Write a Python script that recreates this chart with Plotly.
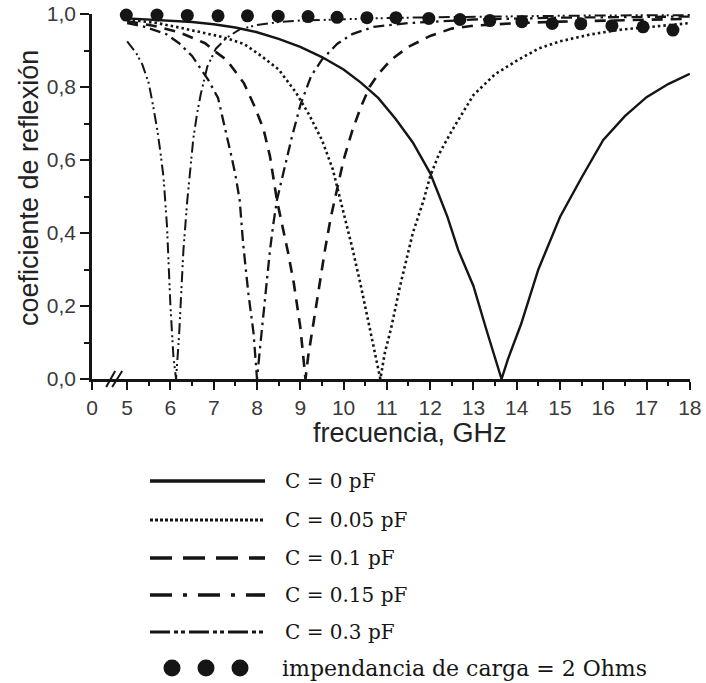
import plotly.graph_objects as go

# ---------------- data ----------------
freq_c0 = [5.0, 5.5, 6.0, 6.5, 7.0, 7.5, 8.0, 8.5, 9.0, 9.5, 10.0, 10.4, 10.8, 11.2, 11.6, 12.0,
           12.2, 12.4, 12.65, 13.0, 13.3, 13.5, 13.65, 13.8, 14.1, 14.5, 15.0, 15.5, 16.0, 16.5,
           17.0, 17.5, 18.0]
refl_c0 = [0.988, 0.985, 0.982, 0.978, 0.972, 0.963, 0.950, 0.932, 0.910, 0.882, 0.848, 0.812,
           0.770, 0.713, 0.648, 0.564, 0.505, 0.444, 0.353, 0.255, 0.135, 0.055, 0.0, 0.055, 0.15,
           0.30, 0.444, 0.552, 0.655, 0.72, 0.772, 0.808, 0.836]

freq_c005 = [5.0, 5.7, 6.2, 6.7, 7.2, 7.7, 8.1, 8.5, 8.9, 9.2, 9.5, 9.75, 10.0, 10.2, 10.4, 10.6,
             10.77, 10.85, 10.95, 11.1, 11.3, 11.6, 11.85, 12.0, 12.2, 12.5, 13.0, 13.5, 14.0, 14.5,
             15.0, 15.7, 16.4, 17.2, 18.0]
refl_c005 = [0.985, 0.975, 0.963, 0.950, 0.937, 0.918, 0.885, 0.848, 0.785, 0.725, 0.655, 0.575,
             0.46, 0.36, 0.255, 0.14, 0.05, 0.0, 0.07, 0.14, 0.252, 0.40, 0.49, 0.555, 0.615, 0.68,
             0.778, 0.835, 0.872, 0.905, 0.925, 0.944, 0.957, 0.967, 0.975]

freq_c01 = [5.0, 5.6, 6.2, 6.8, 7.0, 7.3, 7.7, 7.95, 8.15, 8.3, 8.46, 8.6, 8.72, 8.85, 9.0, 9.07,
            9.12, 9.18, 9.3, 9.42, 9.57, 9.7, 9.85, 10.0, 10.2, 10.4, 10.6, 10.8, 11.1, 11.5, 12.0,
            12.5, 13.0, 14.0, 15.0, 16.0, 17.0, 18.0]
refl_c01 = [0.98, 0.968, 0.95, 0.92, 0.90, 0.874, 0.81, 0.745, 0.685, 0.61, 0.49, 0.416, 0.345,
            0.263, 0.143, 0.06, 0.0, 0.06, 0.153, 0.235, 0.353, 0.44, 0.52, 0.60, 0.68, 0.745, 0.80,
            0.835, 0.875, 0.91, 0.94, 0.96, 0.968, 0.975, 0.979, 0.982, 0.985, 0.987]

freq_c015 = [5.0, 5.4, 5.9, 6.2, 6.5, 6.87, 7.1, 7.2, 7.3, 7.4, 7.5, 7.6, 7.68, 7.8, 7.92, 8.0,
             8.07, 8.14, 8.23, 8.3, 8.38, 8.46, 8.6, 8.8, 9.0, 9.25, 9.5, 9.85, 10.2, 10.7, 11.5,
             13.0, 15.0, 16.5, 18.0]
refl_c015 = [0.975, 0.965, 0.945, 0.92, 0.885, 0.82, 0.77, 0.72, 0.665, 0.615, 0.56, 0.49, 0.37,
             0.235, 0.126, 0.0, 0.085, 0.17, 0.263, 0.353, 0.427, 0.49, 0.56, 0.66, 0.75, 0.83,
             0.875, 0.918, 0.945, 0.965, 0.975, 0.985, 0.99, 0.992, 0.993]

freq_c03 = [5.0, 5.2, 5.35, 5.5, 5.6, 5.7, 5.77, 5.84, 5.92, 6.0, 6.07, 6.13, 6.2, 6.3, 6.39, 6.46,
            6.53, 6.62, 6.7, 6.85, 7.05, 7.3, 7.6, 8.0, 8.5, 9.0, 10.0, 11.0, 12.0, 13.0, 14.0,
            15.0, 16.0, 17.0, 18.0]
refl_c03 = [0.925, 0.895, 0.862, 0.81, 0.748, 0.68, 0.62, 0.553, 0.42, 0.20, 0.06, 0.0, 0.12,
            0.353, 0.49, 0.58, 0.66, 0.73, 0.78, 0.855, 0.905, 0.935, 0.958, 0.97, 0.978, 0.982,
            0.986, 0.989, 0.991, 0.993, 0.994, 0.995, 0.996, 0.996, 0.997]

freq_2ohm = [4.98, 5.69, 6.39, 7.10, 7.78, 8.49, 9.18, 9.85, 10.54, 11.21, 11.97, 12.69, 13.38,
             14.12, 14.82, 15.48, 16.20, 16.92, 17.61]
refl_2ohm = [0.997, 0.997, 0.996, 0.995, 0.995, 0.994, 0.993, 0.991, 0.990, 0.990, 0.988, 0.985,
             0.982, 0.979, 0.974, 0.973, 0.968, 0.965, 0.956]

x_tick_vals = [5, 6, 7, 8, 9, 10, 11, 12, 13, 14, 15, 16, 17, 18]
x_tick_text = ["0", "5", "6", "7", "8", "9", "10", "11", "12", "13", "14", "15", "16", "17", "18"]
y_tick_vals = [0.0, 0.2, 0.4, 0.6, 0.8, 1.0]
y_tick_text = ["0,0", "0,2", "0,4", "0,6", "0,8", "1,0"]

legend_labels = ["C = 0 pF", "C = 0.05 pF", "C = 0.1 pF", "C = 0.15 pF", "C = 0.3 pF",
                 "impendancia de carga = 2 Ohms"]

# ---------------- layout geometry ----------------
W, H = 706, 683
ML, MR, MT, MB = 92, 16, 14, 0
PLOT_BOTTOM = 379            # pixel row of the x axis
PX_PER_GHZ = 43.31
X_ZERO = 5 - 35 / PX_PER_GHZ   # position of the broken-axis "0" label
X_MAX = 18.0
paper_h = H - MT - MB
Y_DOM0 = 1 - (PLOT_BOTTOM - MT) / paper_h

INK = "#151515"


def px_to_x(px):
    return X_ZERO + (px - ML) * (X_MAX - X_ZERO) / (W - ML - MR)


def px_to_paper_y(py):
    return (H - MB - py) / paper_h


def px_to_paper_x(px):
    return (px - ML) / (W - ML - MR)


series = [
    (freq_c0, refl_c0, dict(width=2.4, dash="solid")),
    (freq_c005, refl_c005, dict(width=2.6, dash="2.5px,3px")),
    (freq_c01, refl_c01, dict(width=2.6, dash="11px,8px")),
    (freq_c015, refl_c015, dict(width=2.3, dash="11px,5px,2.5px,5px")),
    (freq_c03, refl_c03, dict(width=2.0, dash="11px,4px,2px,3px,2px,4px")),
]

fig = go.Figure()
for fx, fy, ln in series:
    fig.add_trace(go.Scatter(x=fx, y=fy, mode="lines", showlegend=False, hoverinfo="skip",
                             line=dict(color=INK, **ln)))
fig.add_trace(go.Scatter(x=freq_2ohm, y=refl_2ohm, mode="markers", showlegend=False,
                         cliponaxis=False, hoverinfo="skip",
                         marker=dict(color=INK, size=13, line=dict(width=0))))

# ---------------- custom legend (lower panel in pixel units) ----------------
legend_rows = [481, 520, 558, 595, 632, 668]
legend_line_styles = [
    dict(width=3.6, dash="solid"),
    dict(width=3.0, dash="3px,2px"),
    dict(width=3.6, dash="22px,11px"),
    dict(width=3.6, dash="22px,11px,4px,11px"),
    dict(width=3.0, dash="20px,4px,4px,3px,4px,4px"),
]
for row_y, st in zip(legend_rows[:5], legend_line_styles):
    fig.add_trace(go.Scatter(x=[150, 265], y=[row_y, row_y], mode="lines", xaxis="x2",
                             yaxis="y2", showlegend=False, hoverinfo="skip",
                             line=dict(color=INK, **st)))
fig.add_trace(go.Scatter(x=[172, 206, 240], y=[legend_rows[5]] * 3, mode="markers",
                         xaxis="x2", yaxis="y2", showlegend=False, hoverinfo="skip",
                         cliponaxis=False, marker=dict(color=INK, size=17)))

annotations = []
for row_y, lab in zip(legend_rows, legend_labels):
    is_c = lab.startswith("C")
    annotations.append(dict(x=283 if is_c else 280, y=row_y, xref="x2", yref="y2",
                            text=lab, showarrow=False, xanchor="left", yanchor="middle",
                            font=dict(family="DejaVu Serif", size=20 if is_c else 22,
                                      color=INK)))
# axis titles
title_font = dict(family="Liberation Sans, Arial", size=27, color="#222")
annotations.append(dict(x=410, y=433, xref="x2", yref="y2", text="frecuencia, GHz",
                        showarrow=False, xanchor="center", yanchor="middle", font=title_font))
annotations.append(dict(x=px_to_paper_x(29), y=px_to_paper_y(188), xref="paper", yref="paper",
                        text="coeficiente de reflexión", textangle=-90, showarrow=False,
                        xanchor="center", yanchor="middle", font=title_font))

# axis break marks "//"
shapes = []
for (xa, ya, xb, yb) in [(106, 387, 115, 371), (112, 387, 122, 371)]:
    shapes.append(dict(type="line", xref="x", yref="paper",
                       x0=px_to_x(xa), y0=px_to_paper_y(ya), x1=px_to_x(xb), y1=px_to_paper_y(yb),
                       line=dict(color=INK, width=2)))

tick_font = dict(family="Liberation Sans, Arial", size=21, color="#3a3a3a")

fig.update_layout(
    width=W, height=H,
    margin=dict(l=ML, r=MR, t=MT, b=MB, pad=0, autoexpand=False),
    paper_bgcolor="white", plot_bgcolor="white",
    showlegend=False,
    xaxis=dict(domain=[0, 1], range=[X_ZERO - 0.004, X_MAX + 0.004], anchor="y",
               automargin=False,
               tickmode="array", tickvals=[X_ZERO] + x_tick_vals, ticktext=x_tick_text,
               ticks="outside", ticklen=8, tickwidth=2, tickcolor=INK,
               showline=True, linewidth=2.5, linecolor=INK, showgrid=False, zeroline=False,
               tickfont=tick_font,
               minor=dict(tickvals=[v + 0.5 for v in x_tick_vals[:-1]], ticks="outside",
                          ticklen=4, tickwidth=1.6, tickcolor=INK, showgrid=False)),
    yaxis=dict(domain=[Y_DOM0, 1], range=[0, 1.0], anchor="x", automargin=False,
               tickmode="array", tickvals=y_tick_vals, ticktext=y_tick_text,
               ticks="outside", ticklen=9, tickwidth=2, tickcolor=INK,
               showline=True, linewidth=2.5, linecolor=INK, showgrid=False, zeroline=False,
               tickfont=tick_font,
               minor=dict(tickvals=[0.1, 0.3, 0.5, 0.7, 0.9], ticks="outside",
                          ticklen=5, tickwidth=1.6, tickcolor=INK, showgrid=False)),
    xaxis2=dict(domain=[0, 1], range=[ML, W - MR], anchor="y2", visible=False, fixedrange=True,
                automargin=False),
    yaxis2=dict(domain=[0, Y_DOM0], range=[H - MB, PLOT_BOTTOM], anchor="x2", visible=False,
                fixedrange=True, automargin=False),
    annotations=annotations,
    shapes=shapes,
)

fig.write_html("out.html", config={"displayModeBar": False},
               post_script="document.body.style.margin='0';")
